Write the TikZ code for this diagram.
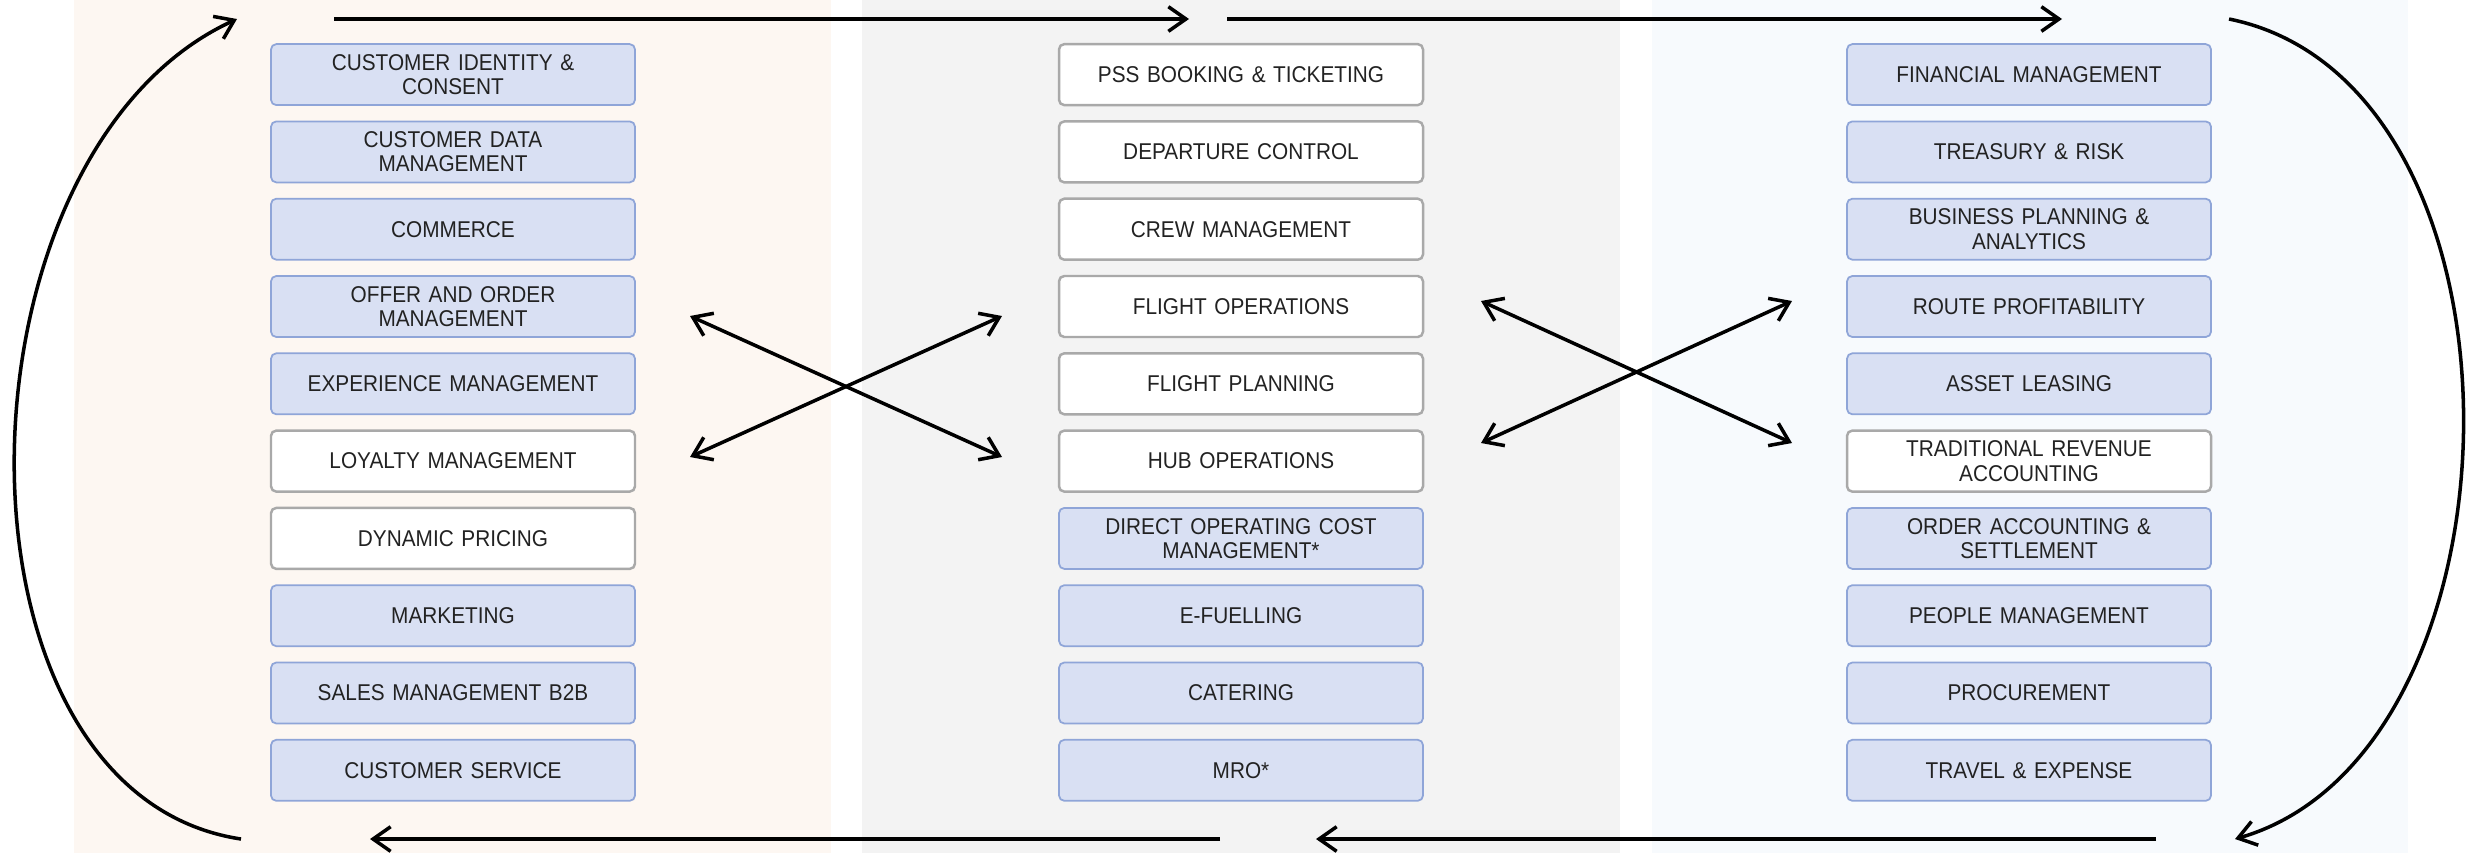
\documentclass[tikz,border=0pt]{standalone}
\usepackage{fontspec}
\setmainfont{Liberation Sans}[FakeStretch=0.91]
\usepackage{tikz}
\usetikzlibrary{arrows.meta}

\definecolor{leftbg}{HTML}{FDF7F2}
\definecolor{midbg}{HTML}{F3F3F3}
\definecolor{rightbg}{HTML}{F7FAFD}
\definecolor{boxblue}{HTML}{D9E0F3}
\definecolor{boxedge}{HTML}{8FA5D8}
\definecolor{boxgray}{HTML}{A9A9A9}
\definecolor{txt}{HTML}{222222}

\tikzset{
	fnbox/.style={rectangle,rounded corners=1.5pt,text width=3.4cm,inner xsep=0.12cm,inner ysep=0pt,minimum height=0.61cm,align=center,font=\fontsize{6.5}{6.9}\selectfont,text=txt},
	bluebox/.style={fnbox,fill=boxblue,draw=boxedge,line width=0.5pt},
	whitebox/.style={fnbox,fill=white,draw=boxgray,line width=0.7pt},
	flow/.style={line width=1pt,->},
	cross/.style={line width=1pt,<->}
}

\begin{document}
\begin{tikzpicture}[>={Straight Barb[length=5pt,width=7pt]}]
			\useasboundingbox (0,0) rectangle (24.69,8.53);
			\fill[white] (0,0) rectangle (24.69,8.53);
			\fill[leftbg] (0.74,0) rectangle (8.31,8.53);
			\fill[midbg] (8.62,0) rectangle (16.20,8.53);
			\fill[rightbg] (16.52,0) rectangle (24.08,8.53);
			
			% customer
			
			\foreach \s/\t [count=\i] in {bluebox/{CUSTOMER IDENTITY \&\\CONSENT},bluebox/{CUSTOMER DATA\\MANAGEMENT},bluebox/{COMMERCE},bluebox/{OFFER AND ORDER\\MANAGEMENT},bluebox/{EXPERIENCE MANAGEMENT},whitebox/{LOYALTY MANAGEMENT},whitebox/{DYNAMIC PRICING},bluebox/{MARKETING},bluebox/{SALES MANAGEMENT B2B},bluebox/{CUSTOMER SERVICE}} {
				\pgfmathsetmacro{\y}{7.784-0.773*(\i-1)}
				\node[\s] (L\i) at (4.53,\y) {\t};
			}
			
			% operations
			
			\foreach \s/\t [count=\i] in {whitebox/{PSS BOOKING \& TICKETING},whitebox/{DEPARTURE CONTROL},whitebox/{CREW MANAGEMENT},whitebox/{FLIGHT OPERATIONS},whitebox/{FLIGHT PLANNING},whitebox/{HUB OPERATIONS},bluebox/{DIRECT OPERATING COST\\MANAGEMENT*},bluebox/{E-FUELLING},bluebox/{CATERING},bluebox/{MRO*}} {
				\pgfmathsetmacro{\y}{7.784-0.773*(\i-1)}
				\node[\s] (M\i) at (12.41,\y) {\t};
			}
			
			% finance
			
			\foreach \s/\t [count=\i] in {bluebox/{FINANCIAL MANAGEMENT},bluebox/{TREASURY \& RISK},bluebox/{BUSINESS PLANNING \&\\ANALYTICS},bluebox/{ROUTE PROFITABILITY},bluebox/{ASSET LEASING},whitebox/{TRADITIONAL REVENUE\\ACCOUNTING},bluebox/{ORDER ACCOUNTING \&\\SETTLEMENT},bluebox/{PEOPLE MANAGEMENT},bluebox/{PROCUREMENT},bluebox/{TRAVEL \& EXPENSE}} {
				\pgfmathsetmacro{\y}{7.784-0.773*(\i-1)}
				\node[\s] (R\i) at (20.29,\y) {\t};
			}
			
			% loop
			
			\coordinate (topA) at (3.34,8.34);
			\coordinate (topB) at (11.89,8.34);
			\coordinate (topC) at (12.27,8.34);
			\coordinate (topD) at (20.62,8.34);
			\coordinate (botA) at (21.56,0.14);
			\coordinate (botB) at (13.16,0.14);
			\coordinate (botC) at (12.20,0.14);
			\coordinate (botD) at (3.70,0.14);
			\coordinate (lcurveS) at (2.41,0.14);
			\coordinate (lcurveE) at (2.37,8.34);
			\coordinate (rcurveS) at (22.29,8.34);
			\coordinate (rcurveE) at (22.35,0.14);
			\draw[flow] (topA) -- (topB);
			\draw[flow] (topC) -- (topD);
			\draw[flow] (botA) -- (botB);
			\draw[flow] (botC) -- (botD);
			\draw[flow] (lcurveS) .. controls (-0.65,0.6) and (-0.55,7.0) .. (lcurveE);
			\draw[flow] (rcurveS) .. controls (25.45,7.7) and (25.35,1.0) .. (rcurveE);
			
			% crosses
			
			\coordinate (xa1) at (6.90,5.37);
			\coordinate (xa2) at (10.02,3.96);
			\coordinate (xa3) at (6.90,3.96);
			\coordinate (xa4) at (10.02,5.37);
			\draw[cross] (xa1) -- (xa2);
			\draw[cross] (xa3) -- (xa4);
			\coordinate (xb1) at (14.81,5.52);
			\coordinate (xb2) at (17.92,4.10);
			\coordinate (xb3) at (14.81,4.10);
			\coordinate (xb4) at (17.92,5.52);
			\draw[cross] (xb1) -- (xb2);
			\draw[cross] (xb3) -- (xb4);
			
		\end{tikzpicture}
\end{document}
